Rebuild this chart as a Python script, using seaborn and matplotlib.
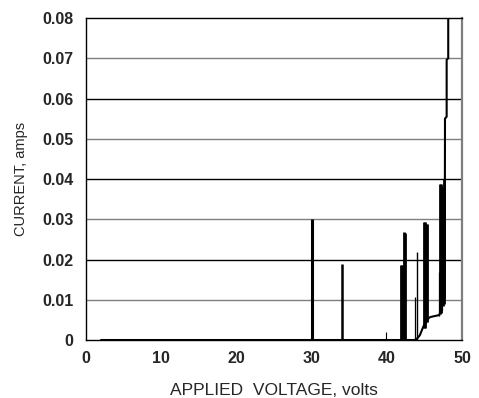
import matplotlib
matplotlib.use("Agg")
import matplotlib.pyplot as plt
import seaborn as sns
import pandas as pd

# Baseline I-V trace (volts, amps)
voltage = [2.0, 30.0, 34.0, 39.9, 42.0, 43.75, 44.1, 44.4, 44.85, 45.3, 45.65, 46.0, 46.5, 46.98,
           47.2, 47.45, 47.7, 47.74, 47.96, 47.96, 48.17, 48.17]
current = [0.0, 0.0, 0.0, 0.0, 0.0, 0.0, 0.0005, 0.0012, 0.0033, 0.0048, 0.0056, 0.0058, 0.0060, 0.0062,
           0.0075, 0.0095, 0.0105, 0.055, 0.0555, 0.0696, 0.0700, 0.0800]

# Current spikes (position, top, base, width class)
spike_v = [30.0, 34.0, 39.9, 41.9, 42.05, 42.3, 42.45, 43.8, 44.0, 44.95, 45.05, 45.25, 45.35,
           46.9, 47.05, 47.15, 47.3, 47.45, 47.55]
spike_top = [0.0300, 0.0188, 0.0020, 0.0186, 0.0186, 0.0268, 0.0265, 0.0108, 0.0218, 0.0294, 0.0294,
             0.0288, 0.0288, 0.0170, 0.0388, 0.0388, 0.0300, 0.0380, 0.0400]
spike_base = [0.0, 0.0, 0.0, 0.0, 0.0, 0.0, 0.0, 0.0, 0.0, 0.003, 0.003, 0.0045, 0.0045,
              0.006, 0.0065, 0.0068, 0.0072, 0.0085, 0.009]
spike_w = [2.2, 1.8, 0.8, 2.0, 2.0, 2.0, 2.0, 0.9, 1.0, 2.0, 2.0, 2.0, 2.0, 0.9, 2.0, 2.0, 1.6, 2.0, 2.0]

x_ticks = [0, 10, 20, 30, 40, 50]
y_ticks = [0, 0.01, 0.02, 0.03, 0.04, 0.05, 0.06, 0.07, 0.08]
y_labels = ["0", "0.01", "0.02", "0.03", "0.04", "0.05", "0.06", "0.07", "0.08"]

sns.set_style("white")
plt.rcParams["font.family"] = ["Liberation Sans", "DejaVu Sans"]

fig = plt.figure(figsize=(4.79, 3.98), dpi=100)
ax = fig.add_axes([0.1795, 0.1457, 0.785, 0.809])

# gridlines alternating black / gray
for i, yv in enumerate(y_ticks[1:-1]):
    ax.axhline(yv, color="#000000" if i % 2 == 1 else "#7f7f7f", lw=1.0, zorder=1)

df = pd.DataFrame({"v": voltage, "i": current})
sns.lineplot(data=df, x="v", y="i", sort=False, estimator=None, color="black", lw=1.5, ax=ax, zorder=3)
ax.vlines(spike_v, spike_base, spike_top, colors="black", linewidths=spike_w, zorder=3)

ax.set_xlim(0, 50)
ax.set_ylim(0, 0.08)
ax.set_xticks(x_ticks)
ax.set_yticks(y_ticks)
ax.set_yticklabels(y_labels)
ax.tick_params(axis="x", direction="in", length=5, width=0.8, color="black", pad=8, labelsize=11.5)
ax.tick_params(axis="y", length=0, pad=9, labelsize=11.5)
for lab in ax.get_xticklabels() + ax.get_yticklabels():
    lab.set_fontweight("bold")

for side in ["left", "bottom", "top"]:
    ax.spines[side].set_color("black")
    ax.spines[side].set_linewidth(1.0)
ax.spines["right"].set_color("#7f7f7f")
ax.spines["right"].set_linewidth(1.6)

ax.set_xlabel("APPLIED  VOLTAGE, volts", fontsize=12.5, labelpad=12)
ax.set_ylabel("CURRENT, amps", fontsize=10.5, labelpad=10)

fig.savefig("out.png", dpi=100)
